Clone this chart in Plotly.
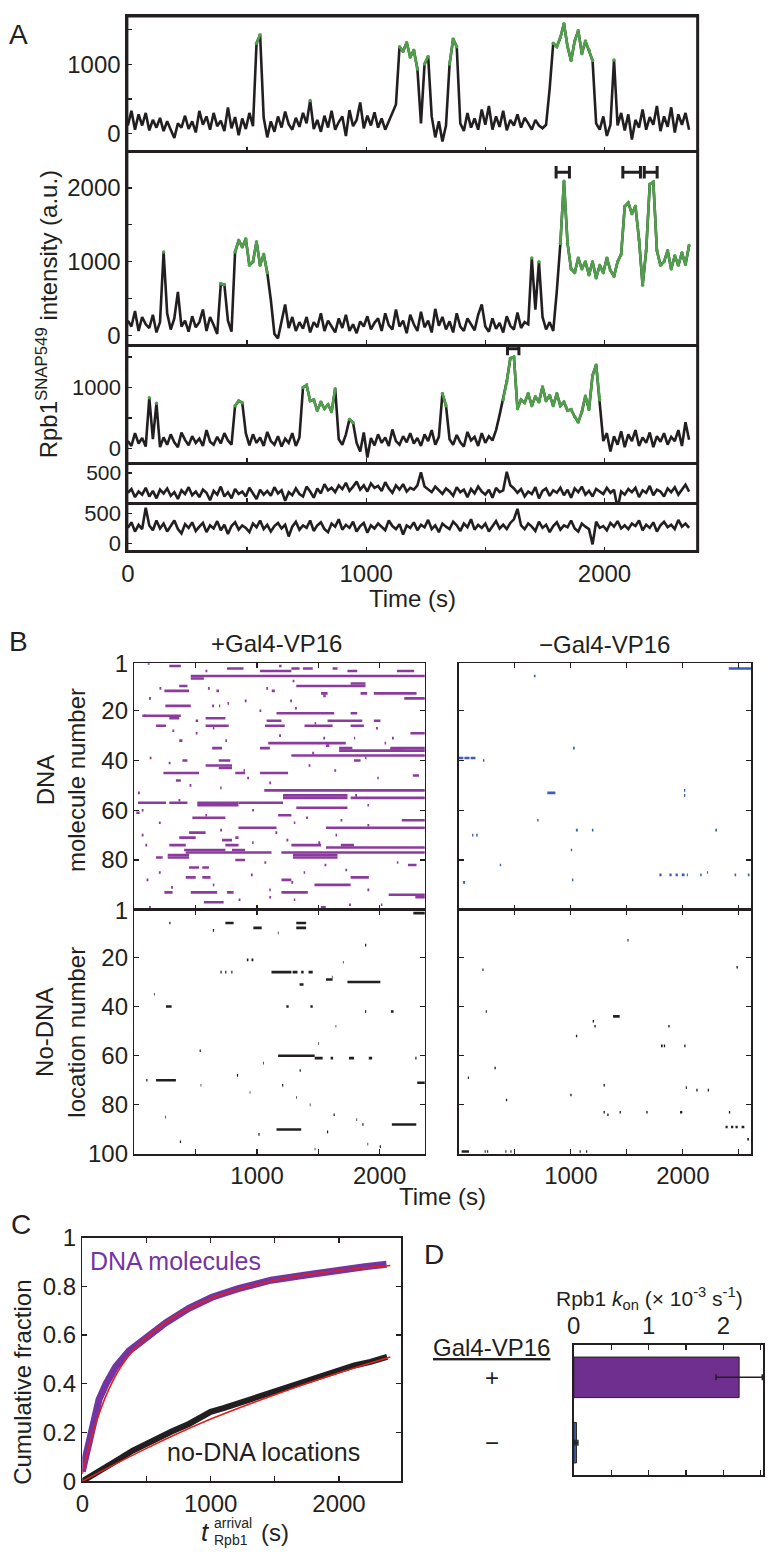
import plotly.graph_objects as go

W, H = 769, 1566
FONT = "Liberation Sans, Arial, sans-serif"
INK = "#231f20"
GREEN = "#4f9f4b"
PURPLE_R = "#8b3a9e"
PURPLE_C = "#7434a3"
PURPLE_BAR = "#6e2f8e"
BLUE = "#3c5db4"
BLUE_BAR = "#4565b5"
RED = "#e3201b"

# ---------------- Panel A data ----------------
TIME_A = [0, 15, 30, 45, 60, 75, 90, 105, 120, 135, 150, 165, 180, 195, 210, 225, 240, 255, 270, 285,
          300, 315, 330, 345, 360, 375, 390, 405, 420, 435, 450, 465, 480, 495, 510, 525, 540, 555, 570, 585,
          600, 615, 630, 645, 660, 675, 690, 705, 720, 735, 750, 765, 780, 795, 810, 825, 840, 855, 870, 885,
          900, 915, 930, 945, 960, 975, 990, 1005, 1020, 1035, 1050, 1065, 1080, 1095, 1110, 1125, 1140, 1155, 1170, 1185,
          1200, 1215, 1230, 1245, 1260, 1275, 1290, 1305, 1320, 1335, 1350, 1365, 1380, 1395, 1410, 1425, 1440, 1455, 1470, 1485,
          1500, 1515, 1530, 1545, 1560, 1575, 1590, 1605, 1620, 1635, 1650, 1665, 1680, 1695, 1710, 1725, 1740, 1755, 1770, 1785,
          1800, 1815, 1830, 1845, 1860, 1875, 1890, 1905, 1920, 1935, 1950, 1965, 1980, 1995, 2010, 2025, 2040, 2055, 2070, 2085,
          2100, 2115, 2130, 2145, 2160, 2175, 2190, 2205, 2220, 2235, 2250, 2265, 2280, 2295, 2310, 2325, 2340, 2355]

A1 = [120, 330, 60, 280, 120, 300, 50, 200, 90, 230,
      40, 180, 60, -60, 150, 90, 260, 70, 180, 20,
      330, 130, 250, 60, 300, 110, 190, 40, 380, 80,
      240, -20, 220, 70, 300, 110, 1300, 1420, 230, -50,
      180, 30, 250, 90, 320, 140, 60, 230, 100, 300,
      150, 480, 70, 200, 30, 260, 90, 330, 60, 170,
      250, -30, 340, 110, 200, 450, 80, 260, 120, 310,
      90, 220, 60, 180, 300, 420, 1250, 1180, 1310, 1100,
      1200, 930, 150, 1000, 1110, 250, -50, 180, -110, 120,
      1000, 1360, 1250, 150, 40, 300, 90, 220, 60, 350,
      130, 400, 60, 250, 100, 330, 50, 200, 120, 280,
      90, 230, 150, 60, 200, 120, 80, 130, 650, 1300,
      1250, 1380, 1580, 1250, 1050, 1330, 1480, 1150, 1330, 1200,
      1050, 150, 60, 250, -30, 130, 1060, 120, 300, 50,
      280, -80, 200, 90, 350, 60, 240, 130, 400, 40,
      250, 100, 380, 20, 280, 130, 300, 60]
A1_BOUND = [(540, 555), (765, 765), (1140, 1215), (1245, 1260), (1350, 1380), (1785, 1950), (2040, 2040)]

A2 = [200, 120, 330, 60, 250, 150, 100, 280, 40, 180,
      1130, 300, 80, 230, 590, 120, 200, 50, 260, 110,
      180, 350, 60, 250, 140, 20, 700, 690, 200, 50,
      1130, 1290, 1200, 1310, 950, 1000, 1270, 950, 1100, 850,
      480, 20, -40, 200, 420, 100, 250, 60, 180, 90,
      250, 40, 180, 110, 300, 60, 200, 120, 40, 230,
      100, 280, 60, 150, 30, 190, 120, 260, 80, 170,
      230, 60, 300, 140, 80, 350, 120, 200, 30, 280,
      150, 60, 320, 110, 200, 40, 360, 130, 250, 80,
      190, 40, 300, 120, 60, 230, 150, 70, 280, 420,
      120, 50, 230, 90, 170, 40, 260, 130, 80, 310,
      100, 180, 150, 1050, 350, 1000, 250, 80, 180, 60,
      600, 1250, 2090, 1250, 900, 850, 1050, 900, 1000, 820,
      1000, 780, 950, 850, 1050, 880, 800, 1000, 1100, 1750,
      1800, 1650, 1750, 1300, 680, 1150, 2050, 2080, 1150, 950,
      1000, 1150, 900, 1080, 950, 1120, 960, 1220]
A2_BOUND = [(150, 150), (390, 405), (450, 585), (1695, 1695), (1725, 1725), (1815, 2355)]

A3 = [120, 40, 250, 80, 170, 30, 830, 150, 740, 20,
      180, 60, 230, 100, 20, 260, 140, 50, 200, 90,
      160, 40, 300, 110, 60, 190, 80, 250, 130, 60,
      700, 780, 750, 250, 50, 230, 90, 180, 40, 270,
      120, 60, 200, 30, 160, 90, 250, 40, 180, 1000,
      1040, 780, 800, 620, 760, 650, 720, 600, 980, 150,
      60, 230, 480, 420, 90, -50, 260, -150, 170, 50,
      230, 90, 180, 40, 310, 120, 60, 200, 100, 250,
      80, 170, 40, 230, 120, 300, 60, 190, 900, 700,
      150, 60, 220, 100, 30, 270, 130, 190, 40, 250,
      90, 200, 130, 300, 550, 800, 1100, 1480, 1500, 650,
      800, 750, 900, 700, 850, 760, 1010, 780, 870, 700,
      900, 700, 760, 620, 640, 520, 430, 600, 860, 640,
      1200, 1370, 800, 120, 250, -50, 200, 60, 280, 20,
      230, 120, 300, 40, 180, 90, 260, 20, 200, 110,
      250, 60, 190, 120, 300, 40, 430, 140]
A3_BOUND = [(90, 90), (120, 120), (450, 480), (735, 870), (930, 945), (1320, 1335), (1575, 1980)]

A4 = [180, 240, 110, 200, 150, 260, 120, 210, 90, 230,
      170, 250, 130, 190, 80, 220, 160, 270, 140, 200,
      110, 230, 180, 60, 210, 150, 280, 120, 190, 90,
      240, 160, 200, 120, 260, 180, 80, 230, 150, 210,
      130, 270, 170, 220, 50, 190, 140, 250, 160, 120,
      280, 200, 100, 250, 170, 320, 220, 260, 190, 300,
      240, 340, 210, 280, 360, 230, 300, 200, 330, 260,
      290, 210, 350, 250, 180, 300, 230, 320, 200, 260,
      230, 300, 510, 280, 240, 190, 280, 220, 160, 250,
      200, 130, 270, 190, 230, 110, 240, 170, 280, 200,
      150, 230, 100, 260, 190, 220, 520, 300, 250, 180,
      240, 120, 200, 160, 270, 90, 210, 250, 130, 220,
      180, 260, 140, 230, 100, 250, 190, 280, 150, 210,
      120, 240, 200, 160, 260, 180, 230, -70, 200, 150,
      240, 190, 260, 110, 220, 180, 290, 140, 230, 200,
      120, 250, 190, 270, 150, 230, 310, 200]

A5 = [260, 350, 200, 310, 240, 590, 300, 220, 380, 250,
      330, 200, 290, 380, 240, 170, 320, 260, 350, 210,
      280, 340, 190, 300, 250, 370, 220, 310, 160, 290,
      350, 230, 300, 260, 190, 330, 270, 380, 240, 310,
      200, 290, 340, 250, 310, 120, 280, 360, 230, 300,
      260, 380, 210, 300, 350, 240, 190, 330, 280, 400,
      230, 310, 260, 360, 200, 290, 340, 180, 300, 250,
      330, 270, 220, 380, 290, 240, 320, 150, 300, 260,
      350, 220, 310, 270, 390, 240, 300, 190, 330, 280,
      240, 360, 300, 210, 330, 270, 400, 230, 310, 260,
      330, 200, 290, 370, 250, 310, 240, 340, 400, 570,
      300, 240, 330, 280, 210, 360, 260, 310, 190, 290,
      350, 230, 300, 270, 380, 250, 200, 330, 280, 240,
      -10, 360, 260, 290, 220, 340, 280, 370, 250, 300,
      240, 330, 290, 380, 220, 310, 260, 350, 200, 300,
      360, 270, 310, 240, 390, 280, 330, 260]

# dwell markers (start, end) and their height
A2_MARKS = [(1797, 1853), (2077, 2151), (2167, 2221)]
A2_MARK_Y = 2213
A3_MARKS = [(1593, 1641)]
A3_MARK_Y = 1634

# ---------------- Panel B data: (row, start s, end s) ----------------
DNA_PLUS = [
    (2, 285, 379), (3, 755, 890), (4, 1024, 1280), (3, 1280, 1347), (3, 1374, 1454), (3, 1616, 1656),
    (4, 1737, 1817), (4, 2140, 2280), (6, 460, 2368), (7, 460, 567),
    (10, 1320, 1884), (9, 1763, 1884), (10, 366, 433),
    (12, 245, 446), (12, 669, 690), (12, 1120, 1145), (13, 1522, 1575), (13, 1844, 1898), (13, 1952, 2300),
    (18, 253, 460), (18, 634, 650), (18, 690, 700),
    (21, 1159, 1629), (21, 1763, 1817), (22, 65, 379), (23, 285, 366), (23, 581, 742),
    (24, 1078, 1199), (24, 1575, 1858), (24, 1952, 2006),
    (26, 177, 258), (26, 581, 769), (26, 1065, 1226), (26, 1387, 1616), (26, 1763, 1871),
    (31, 1790, 1800), (32, 366, 392), (32, 742, 755), (33, 1091, 1723), (34, 1562, 1589),
    (35, 634, 715), (35, 1024, 1105), (35, 1669, 1777), (35, 2086, 2368), (36, 2086, 2368), (36, 1669, 2194),
    (38, 1280, 2368), (40, 392, 433), (40, 688, 782), (40, 1790, 1844),
    (42, 581, 796), (43, 688, 796), (45, 237, 527), (45, 823, 903), (45, 1024, 1253), (48, 339, 379),
    (52, 1059, 2368), (55, 1212, 1737), (54, 1212, 1737), (55, 1763, 2368),
    (57, 30, 258), (57, 285, 433), (57, 513, 849), (58, 513, 849), (57, 849, 1212),
    (59, 1320, 1737), (61, 16, 43), (62, 1172, 1280), (63, 473, 742),
    (67, 849, 1159), (67, 1562, 2368), (69, 446, 581), (71, 366, 500), (71, 823, 849), (72, 715, 796),
    (74, 285, 419), (74, 742, 849), (74, 1280, 1522), (74, 1683, 1790), (75, 1562, 2368),
    (76, 406, 742), (76, 796, 903), (77, 419, 1118), (77, 1199, 2368),
    (78, 272, 446), (79, 272, 446), (78, 1293, 1656), (79, 1293, 1656), (79, 177, 231), (80, 823, 903),
    (83, 446, 527), (83, 554, 608), (87, 419, 500), (87, 554, 621), (87, 1763, 1911), (88, 1199, 1280),
    (90, 1468, 1763), (93, 245, 312), (93, 460, 675), (93, 755, 809), (93, 1199, 1414), (94, 2073, 2368),
    (97, 567, 728), (99, 1520, 1560), (100, 2170, 2230),
    (15, 2200, 2368), (29, 2250, 2368), (46, 2270, 2320), (64, 2180, 2368), (82, 2230, 2300), (95, 2290, 2368),
    (1, 110, 125), (2, 1180, 1200), (4, 580, 595), (11, 205, 220), (11, 600, 615), (11, 1075, 1090),
    (14, 1540, 1560), (15, 120, 135), (16, 900, 915), (16, 1270, 1285), (19, 1310, 1325), (20, 1020, 1035),
    (22, 80, 95), (24, 500, 520), (27, 1970, 1985), (28, 310, 325), (29, 500, 515), (30, 1180, 1195),
    (31, 1540, 1555), (31, 2100, 2115), (37, 1450, 1465), (39, 125, 140), (41, 280, 295), (42, 1420, 1435),
    (44, 1630, 1645), (47, 920, 935), (49, 1100, 1115), (50, 450, 465), (53, 30, 45), (54, 1800, 1815),
    (56, 360, 375), (60, 60, 75), (60, 960, 975), (63, 1400, 1415), (64, 1680, 1695), (65, 200, 215),
    (66, 1900, 1915), (68, 700, 715), (69, 1150, 1165), (70, 60, 75), (72, 1240, 1255), (73, 1500, 1515),
    (74, 90, 105), (81, 1060, 1075), (82, 1550, 1565), (84, 1720, 1735), (85, 200, 215), (86, 950, 965),
    (88, 100, 115), (89, 1280, 1295), (91, 300, 315), (92, 1900, 1915), (95, 1100, 1115), (96, 850, 865),
    (98, 1750, 1765), (99, 120, 135), (8, 1290, 1305), (17, 760, 772), (25, 1470, 1482), (27, 640, 652),
    (33, 2040, 2052), (39, 1880, 1892), (44, 890, 902), (47, 1980, 1992), (51, 700, 712), (58, 1900, 1912),
    (62, 580, 592), (65, 1300, 1312), (70, 1640, 1652), (73, 960, 972), (81, 2140, 2152), (85, 1380, 1392),
    (90, 640, 652), (92, 1100, 1112), (96, 1300, 1312), (98, 2010, 2022)]

DNA_MINUS = [
    (3, 2410, 2608), (6, 670, 685), (35, 1020, 1035), (39, 0, 40), (39, 50, 95), (39, 105, 148),
    (40, 215, 228), (52, 2010, 2022), (54, 2010, 2022), (53, 790, 862), (64, 700, 712),
    (68, 1045, 1062), (68, 1188, 1202), (68, 2290, 2305), (70, 118, 130), (70, 155, 168),
    (76, 1000, 1012), (82, 366, 378), (86, 1790, 1810), (86, 1880, 1900), (86, 1935, 1955),
    (86, 1990, 2015), (86, 2035, 2045), (86, 2155, 2168), (85, 2215, 2225), (86, 2462, 2476),
    (86, 2580, 2595), (88, 1010, 1022), (89, 38, 55)]

NODNA_PLUS = [
    (2, 2274, 2368), (6, 285, 295), (6, 742, 809), (9, 640, 650), (8, 970, 1038), (6, 1320, 1400),
    (8, 1320, 1400), (15, 1880, 1890), (21, 917, 930), (21, 955, 970), (26, 702, 712), (26, 740, 750),
    (26, 790, 800), (26, 1118, 1280), (26, 1290, 1330), (26, 1360, 1380), (26, 1420, 1454),
    (29, 1562, 1616), (30, 1737, 2005), (31, 1347, 1379), (40, 1435, 1454), (40, 1239, 1258),
    (40, 258, 304), (42, 2091, 2113), (42, 1880, 1890), (58, 532, 542), (60, 1172, 1470),
    (61, 1470, 1535), (61, 1600, 1620), (61, 1750, 1790), (61, 1911, 1938), (61, 2290, 2300),
    (66, 1347, 1357), (68, 836, 846), (70, 97, 107), (70, 177, 339), (71, 2306, 2368), (72, 1204, 1214),
    (84, 1624, 1634), (88, 1858, 1868), (88, 2099, 2298), (90, 1159, 1360), (92, 1011, 1021),
    (91, 1570, 1580), (95, 371, 381), (97, 2000, 2010),
    (10, 1170, 1176), (22, 1700, 1706), (28, 1610, 1616), (35, 160, 166), (48, 1640, 1646),
    (55, 1500, 1506), (63, 1050, 1056), (72, 540, 546), (75, 940, 946), (77, 1320, 1326),
    (80, 1430, 1436), (85, 250, 256), (86, 1810, 1816), (96, 1900, 1906), (98, 1470, 1476)]

NODNA_MINUS = [
    (24, 2479, 2491), (44, 1377, 1436), (46, 1195, 1207), (48, 1210, 1222), (48, 1870, 1882),
    (52, 1045, 1057), (56, 1805, 1820), (56, 1830, 1842), (56, 2012, 2024), (65, 318, 330),
    (72, 1292, 1304), (73, 2026, 2036), (74, 2120, 2132), (74, 2222, 2234), (76, 995, 1007),
    (78, 420, 432), (83, 1292, 1304), (83, 1435, 1447), (83, 1674, 1686), (83, 1975, 1995),
    (83, 2411, 2423), (84, 1325, 1337), (89, 2381, 2400), (89, 2430, 2450), (89, 2470, 2490),
    (89, 2525, 2549), (94, 2575, 2590), (99, 25, 90), (99, 230, 240), (99, 252, 262), (99, 415, 425),
    (99, 460, 470), (99, 1078, 1088), (99, 1136, 1146), (13, 1505, 1515), (25, 210, 220),
    (42, 240, 250), (69, 80, 90)]

# ---------------- Panel C data ----------------
DNA_T = [0, 30, 80, 130, 185, 260, 365, 495, 650, 830, 1010, 1215, 1470, 1730, 1980, 2200, 2370]
DNA_F = [0.04, 0.11, 0.25, 0.335, 0.40, 0.47, 0.535, 0.59, 0.65, 0.71, 0.755, 0.79, 0.825, 0.845, 0.866, 0.88, 0.89]
DNA_FIT_T = [0, 50, 100, 200, 300, 400, 500, 700, 1000, 1300, 1600, 2000, 2400]
DNA_FIT_F = [0.03, 0.14, 0.23, 0.37, 0.47, 0.54, 0.59, 0.67, 0.75, 0.80, 0.835, 0.865, 0.885]
NODNA_T = [0, 100, 185, 300, 390, 500, 570, 700, 830, 960, 1000, 1100, 1215, 1350, 1470, 1600, 1730, 1860, 1990, 2120, 2245, 2375]
NODNA_F = [0, 0.03, 0.06, 0.095, 0.125, 0.155, 0.175, 0.205, 0.235, 0.27, 0.285, 0.30, 0.32, 0.345, 0.365, 0.385, 0.41, 0.43, 0.455, 0.475, 0.49, 0.51]
NODNA_FIT_T = [0, 500, 1000, 1500, 2000, 2400]
NODNA_FIT_F = [0.0, 0.135, 0.255, 0.355, 0.445, 0.51]

# ---------------- Panel D data ----------------
GAL4 = ["+", "\u2212"]
KON = [2.21, 0.035]
KON_ERR = [0.31, 0.02]

for arr in (A1, A2, A3, A4, A5):
    assert len(arr) == len(TIME_A), len(arr)


# ---------------- helpers ----------------
def px(x):
    return x / W


def py(y):
    return 1 - y / H


def dom_x(x0, x1):
    return [px(x0), px(x1)]


def dom_y(y0, y1):
    return [py(y1), py(y0)]


def names(k):
    if k == 1:
        return "xaxis", "yaxis", "x", "y"
    return f"xaxis{k}", f"yaxis{k}", f"x{k}", f"y{k}"


def bound_values(vals, intervals):
    return [v if any(a <= t <= b for a, b in intervals) else None for t, v in zip(TIME_A, vals)]


def raster_xy(segs):
    xs, ys = [], []
    for m, t0, t1 in segs:
        xs += [t0, t1, None]
        ys += [m, m, None]
    return xs, ys


def minor(step):
    return dict(tick0=0, dtick=step, ticks="inside", ticklen=5, tickwidth=1.2, tickcolor=INK, showgrid=False)


TICKFONT = dict(size=24, family=FONT, color=INK)
base = dict(showline=True, linecolor=INK, linewidth=1.5, ticks="inside", ticklen=5,
            tickwidth=1.2, tickcolor=INK, showgrid=False, zeroline=False, tickfont=TICKFONT)

fig = go.Figure()
layout = {}

# ---------------- Panel A ----------------
A_X = (121, 697)
A_ROWS = [(2, 140), (140, 337), (337, 457), (457, 498), (498, 547)]
A_YR = [[-254, 1690], [-133, 2493], [-242, 1694], [8, 659], [-127, 659]]
A_YT = [[0, 1000], [0, 1000, 2000], [0, 1000], [500], [0, 500]]
A_FS = [24, 24, 22, 21, 22]
A_DATA = [A1, A2, A3, A4, A5]
A_BOUNDS = [A1_BOUND, A2_BOUND, A3_BOUND, [], []]

for i in range(5):
    k = i + 1
    xa, ya, xr, yr = names(k)
    last = (i == 4)
    layout[xa] = dict(base, domain=dom_x(*A_X), range=[-4, 2391], anchor=yr, mirror=True,
                      tickvals=[0, 1000, 2000], ticktext=["0", "1000", "2000"],
                      minor=minor(500), showticklabels=last)
    ya_d = dict(base, domain=dom_y(*A_ROWS[i]), range=A_YR[i], anchor=xr, mirror=True,
                tickvals=A_YT[i], ticktext=[str(v) for v in A_YT[i]],
                tickfont=dict(size=A_FS[i], family=FONT, color=INK))
    if i < 3:
        ya_d["minor"] = minor(500)
    layout[ya] = ya_d
    fig.add_trace(go.Scatter(x=TIME_A, y=A_DATA[i], mode="lines", line=dict(color=INK, width=2.6),
                             xaxis=xr, yaxis=yr, hoverinfo="skip"))
    if A_BOUNDS[i]:
        fig.add_trace(go.Scatter(x=TIME_A, y=bound_values(A_DATA[i], A_BOUNDS[i]), mode="lines+markers",
                                 line=dict(color=GREEN, width=2.6), marker=dict(color=GREEN, size=3.5),
                                 connectgaps=False, xaxis=xr, yaxis=yr, hoverinfo="skip"))

for marks, yv, k in ((A2_MARKS, A2_MARK_Y, 2), (A3_MARKS, A3_MARK_Y, 3)):
    xs, ys = [], []
    for a, b in marks:
        xs += [a, b, None]
        ys += [yv, yv, None]
    _, _, xr, yr = names(k)
    fig.add_trace(go.Scatter(x=xs, y=ys, mode="lines+markers", line=dict(color=INK, width=3),
                             marker=dict(symbol="line-ns", size=9, line=dict(color=INK, width=3)),
                             xaxis=xr, yaxis=yr, hoverinfo="skip"))

# ---------------- Panel B ----------------
B_LX = (128.5, 421.7)
B_RX = (456, 751)
B_TOP = (660.7, 911.7)
B_BOT = (911.7, 1160)
B_SPECS = [
    (6, B_LX, B_TOP, [0, 2368], [100.1, 0.9], DNA_PLUS, PURPLE_R, True, False, [1, 20, 40, 60, 80]),
    (7, B_LX, B_BOT, [0, 2368], [100, 0.7], NODNA_PLUS, INK, True, True, [1, 20, 40, 60, 80, 100]),
    (8, B_RX, B_TOP, [0, 2610], [100.1, 0.9], DNA_MINUS, BLUE, False, False, [1, 20, 40, 60, 80]),
    (9, B_RX, B_BOT, [0, 2610], [100, 0.7], NODNA_MINUS, INK, False, True, [1, 20, 40, 60, 80, 100]),
]
for k, dx, dy, xrng, yrng, segs, col, ylab, xlab, yt in B_SPECS:
    xa, ya, xr, yr = names(k)
    layout[xa] = dict(base, domain=dom_x(*dx), range=xrng, anchor=yr, mirror="ticks",
                      tickvals=[1000, 2000], ticktext=["1000", "2000"], minor=minor(500),
                      showticklabels=xlab)
    layout[ya] = dict(base, domain=dom_y(*dy), range=yrng, anchor=xr, mirror="ticks",
                      tickvals=yt, ticktext=[str(v) for v in yt], showticklabels=ylab)
    xs, ys = raster_xy(segs)
    fig.add_trace(go.Scatter(x=xs, y=ys, mode="lines", line=dict(color=col, width=2.6),
                             xaxis=xr, yaxis=yr, hoverinfo="skip"))

# ---------------- Panel C ----------------
xa, ya, xr, yr = names(10)
layout[xa] = dict(base, domain=dom_x(76, 398), range=[0, 2486], anchor=yr, mirror="ticks",
                  tickvals=[0, 1000, 2000], ticktext=["0", "1000", "2000"], minor=minor(500))
layout[ya] = dict(base, domain=dom_y(1245, 1493), range=[0, 1], anchor=xr, mirror="ticks",
                  tickvals=[0, 0.2, 0.4, 0.6, 0.8, 1], ticktext=["0", "0.2", "0.4", "0.6", "0.8", "1"])
fig.add_trace(go.Scatter(x=DNA_T, y=DNA_F, mode="lines", line=dict(color=PURPLE_C, width=7),
                         xaxis=xr, yaxis=yr, hoverinfo="skip"))
fig.add_trace(go.Scatter(x=NODNA_T, y=NODNA_F, mode="lines", line=dict(color=INK, width=6),
                         xaxis=xr, yaxis=yr, hoverinfo="skip"))
fig.add_trace(go.Scatter(x=DNA_FIT_T, y=DNA_FIT_F, mode="lines", line=dict(color=RED, width=1.6, shape="spline"),
                         xaxis=xr, yaxis=yr, hoverinfo="skip"))
fig.add_trace(go.Scatter(x=NODNA_FIT_T, y=NODNA_FIT_F, mode="lines", line=dict(color=RED, width=1.6, shape="spline"),
                         xaxis=xr, yaxis=yr, hoverinfo="skip"))

# ---------------- Panel D ----------------
xa, ya, xr, yr = names(11)
layout[xa] = dict(base, domain=dom_x(572, 763), range=[0, 2.53], anchor=yr, mirror="ticks", side="top",
                  tickvals=[0, 1, 2], ticktext=["0", "1", "2"], minor=minor(0.5))
layout[ya] = dict(base, domain=dom_y(1354, 1487), range=[1.5, -0.5], anchor=xr, mirror=True,
                  type="category", categoryorder="array", categoryarray=GAL4,
                  ticks="", showticklabels=False)
fig.add_trace(go.Bar(y=GAL4, x=KON, orientation="h", width=0.62,
                     marker=dict(color=[PURPLE_BAR, BLUE_BAR], line=dict(color=INK, width=1)),
                     error_x=dict(type="data", array=KON_ERR, color=INK, thickness=1.5, width=3),
                     xaxis=xr, yaxis=yr, hoverinfo="skip"))

# ---------------- annotations ----------------
def ann(text, x, y, size=24, color=INK, angle=0, xanchor="center", yanchor="middle", **kw):
    d = dict(text=text, x=px(x), y=py(y), xref="paper", yref="paper", showarrow=False,
             font=dict(size=size, color=color, family=FONT), textangle=angle,
             xanchor=xanchor, yanchor=yanchor, borderpad=0)
    d.update(kw)
    return d


annotations = [
    ann("A", 12, 21, size=28),
    ann("B", 12, 638, size=28),
    ann("C", 14, 1232, size=28),
    ann("D", 431, 1262, size=28),
    ann("Rpb1<sup>SNAP549</sup> intensity (a.u.)", 40, 306, angle=-90),
    ann("Time (s)", 409, 595),
    ann("+Gal4-VP16", 272, 641),
    ann("\u2212Gal4-VP16", 603, 642),
    ann("DNA<br>molecule number", 54, 780, angle=-90),
    ann("No-DNA<br>location number", 54, 1036, angle=-90),
    ann("Time (s)", 440, 1203),
    ann("Cumulative fraction", 15, 1392, angle=-90),
    ann("DNA molecules", 83, 1269, size=25, color=PURPLE_C, xanchor="left"),
    ann("no-DNA locations", 259, 1463, size=25),
    ann("<i>t</i>", 200, 1545, size=26),
    ann("arrival", 208, 1535, size=14, xanchor="left"),
    ann("Rpb1", 208, 1553, size=14, xanchor="left"),
    ann("(s)", 270, 1545, size=24),
    ann("Rpb1 <i>k</i><sub>on</sub> (\u00d7 10<sup>-3</sup> s<sup>-1</sup>)", 648, 1307, size=21),
    ann("<u>Gal4-VP16</u>", 489, 1357),
]
for lab in GAL4:
    annotations.append(dict(text=lab, x=px(489), y=lab, xref="paper", yref=yr, showarrow=False,
                            font=dict(size=24, color=INK, family=FONT), xanchor="center", yanchor="middle"))

shapes = [dict(type="rect", xref="paper", yref="paper", x0=px(A_X[0]), x1=px(A_X[1]),
               y0=py(547), y1=py(2), line=dict(color=INK, width=3), fillcolor="rgba(0,0,0,0)")]

fig.update_layout(width=W, height=H, margin=dict(l=0, r=0, t=0, b=0),
                  paper_bgcolor="white", plot_bgcolor="white", showlegend=False,
                  font=dict(family=FONT, color=INK), annotations=annotations, shapes=shapes,
                  bargap=0.3, **layout)

fig.write_html("out.html", config={"displayModeBar": False, "staticPlot": True},
               post_script="document.documentElement.style.margin='0';"
                           "document.body.style.margin='0';document.body.style.padding='0';")
